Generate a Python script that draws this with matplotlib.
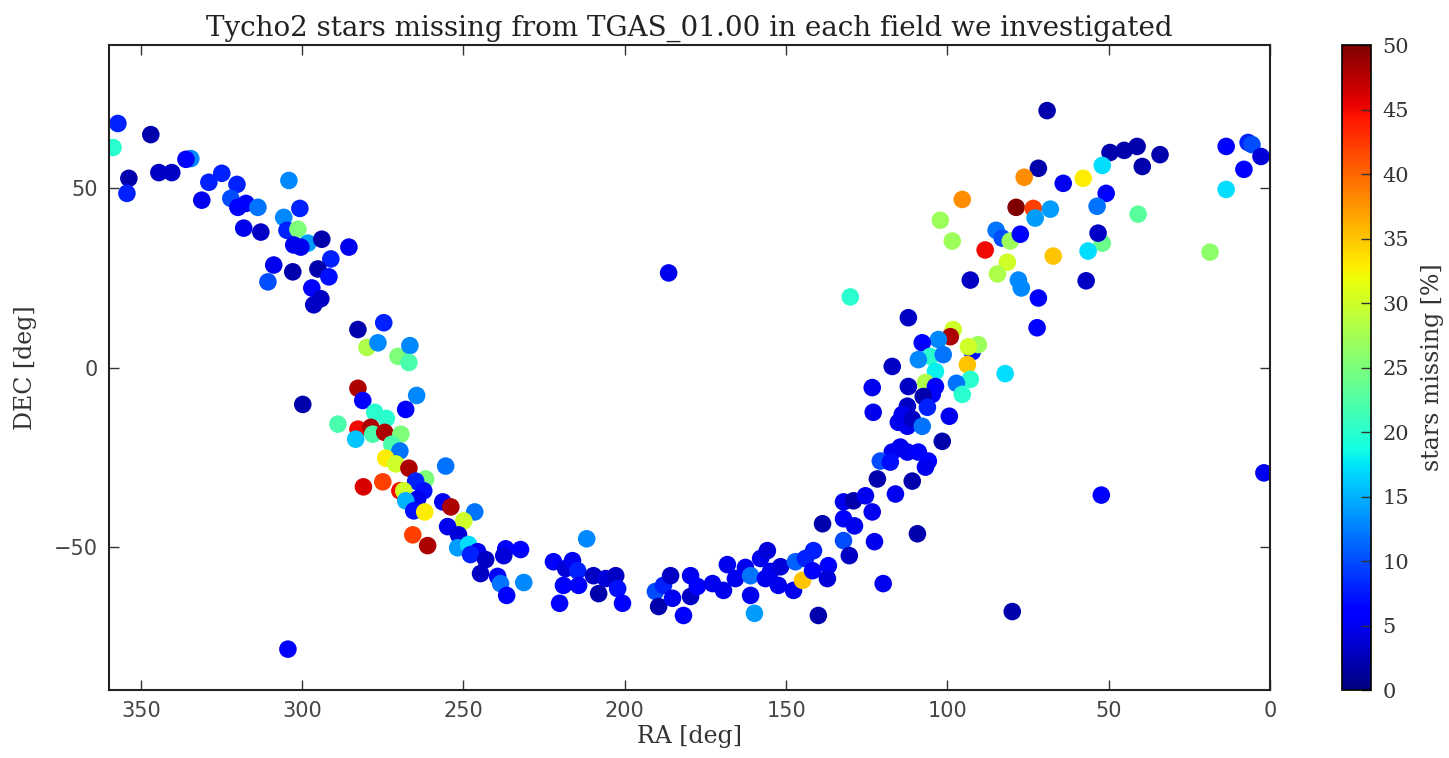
import matplotlib
matplotlib.use("Agg")
import matplotlib.pyplot as plt
import numpy as np

# Field centres (RA, DEC in degrees) and percentage of Tycho2 stars missing
ra = [357.1, 358.6, 346.9, 353.7, 354.3, 344.4, 340.4, 334.5, 336.0, 331.1,
      328.9, 324.9, 320.2, 322.1, 319.9, 317.4, 313.7, 318.1, 312.8, 304.1,
      300.7, 305.7, 304.7, 301.3, 298.2, 302.6, 300.4, 293.9, 285.5, 291.1,
      308.8, 302.9, 295.1, 291.7, 310.6, 297.0, 294.2, 296.4, 282.7, 274.7,
      279.9, 276.5, 270.3, 266.6, 266.9, 282.7, 281.2, 299.8, 264.5, 267.9,
      277.5, 273.9, 288.9, 282.7, 278.7, 283.4, 278.1, 274.4, 269.4, 272.2,
      269.7, 274.1, 271.0, 266.9, 261.7, 264.8, 255.5, 281.0, 275.0, 269.7,
      268.5, 262.3, 264.2, 267.9, 265.4, 262.0, 256.4, 253.9, 246.5, 249.9,
      254.9, 251.5, 265.7, 261.1, 251.8, 248.4, 245.6, 247.8, 243.1,
      244.7, 239.4, 238.5, 236.6, 236.9, 237.5, 232.3, 231.3, 222.1, 220.2,
      218.3, 216.2, 214.6, 219.0, 214.3, 211.8, 209.7, 208.1, 205.9, 202.8,
      202.2, 200.7, 190.5, 188.0, 185.8, 189.5, 185.2, 181.8, 179.6, 179.6,
      177.5, 172.8, 169.4, 168.2, 165.7, 162.6, 161.0, 161.0, 159.8, 157.9,
      155.8, 156.4, 154.8, 151.7, 152.4, 147.7, 147.1, 144.9, 144.0, 141.5,
      141.8, 136.9, 137.2, 140.0, 138.7, 132.2, 130.4, 132.2, 129.1, 125.4,
      123.3, 132.2, 128.8, 122.6, 119.9, 116.1, 121.7,
      130.1, 112.1, 92.9, 72.2, 71.8, 98.2, 99.1, 102.8, 107.8, 92.3,
      90.4, 93.5, 105.3, 101.3, 109.0, 93.8, 103.7, 82.1, 92.9, 97.2,
      95.4, 106.8, 103.7, 104.7, 107.5, 117.1, 123.3, 112.1, 123.0, 112.4,
      114.0, 115.2, 112.4, 110.9, 107.8, 106.2, 99.4, 101.6, 114.6, 117.1,
      112.4, 109.0, 105.9, 106.8, 120.8, 117.7, 110.9, 109.3,
      69.1, 49.6, 45.2, 41.2, 39.6, 34.1, 52.0, 71.8, 76.2, 64.1,
      57.9, 95.4, 50.8, 53.6, 78.7, 73.4, 68.1, 72.8, 40.9, 102.2,
      84.9, 83.0, 80.5, 77.4, 98.5, 52.0, 53.3, 56.4, 88.3, 67.2,
      81.4, 84.5, 78.0, 77.1, 57.0,
      13.6, 6.8, 5.6, 2.8, 8.1, 13.6, 18.6,
      1.9, 52.3, 79.9, 186.4, 304.4]

dec = [68.1, 61.4, 65.0, 52.8, 48.6, 54.4, 54.4, 58.3, 58.1, 46.7,
       51.7, 54.2, 51.1, 47.2, 44.7, 45.8, 44.7, 38.9, 37.8, 52.2,
       44.4, 41.9, 38.3, 38.6, 34.7, 34.2, 33.6, 35.8, 33.6, 30.3,
       28.6, 26.7, 27.5, 25.3, 23.9, 22.2, 19.2, 17.5, 10.6, 12.5,
       5.6, 6.9, 3.1, 6.1, 1.4, -5.8, -9.2, -10.3, -7.8, -11.7,
       -12.5, -14.2, -15.8, -17.2, -16.7, -20.0, -18.6, -18.1, -18.6, -21.4,
       -23.3, -25.3, -26.9, -28.1, -31.1, -31.7, -27.5, -33.3, -31.9, -34.4,
       -34.4, -34.4, -36.7, -37.2, -40.0, -40.3, -37.5, -38.9, -40.3, -42.8,
       -44.4, -46.7, -46.7, -49.7, -50.3, -49.4, -51.4, -52.2, -53.6,
       -57.5, -58.3, -60.3, -63.6, -50.6, -52.5, -50.8, -60.0, -54.2, -65.8,
       -56.1, -53.9, -56.7, -60.8, -60.8, -47.8, -58.1, -63.1, -58.9, -58.1,
       -61.7, -65.8, -62.5, -60.8, -58.1, -66.7, -64.4, -69.2, -58.1, -63.9,
       -61.1, -60.3, -62.2, -55.0, -58.9, -55.8, -58.1, -63.6, -68.6, -53.3,
       -51.1, -58.9, -56.9, -55.6, -60.8, -62.2, -54.2, -59.4, -53.3, -51.1,
       -56.7, -55.3, -58.9, -69.2, -43.6, -48.3, -52.5, -37.5, -37.2, -35.8,
       -40.3, -42.2, -44.2, -48.6, -60.3, -35.3, -31.1,
       19.7, 13.9, 24.4, 11.1, 19.4, 10.6, 8.6, 7.8, 6.9, 4.4,
       6.4, 5.8, 3.1, 3.6, 2.2, 0.8, -1.1, -1.7, -3.3, -4.4,
       -7.5, -4.2, -5.3, -7.5, -8.1, 0.3, -5.6, -5.3, -12.5, -10.8,
       -13.1, -15.3, -16.4, -14.4, -16.4, -11.1, -13.6, -20.6, -22.2, -23.6,
       -23.6, -23.6, -26.1, -27.8, -26.1, -26.4, -31.7, -46.4,
       71.7, 60.0, 60.6, 61.7, 56.1, 59.4, 56.4, 55.6, 53.1, 51.4,
       52.8, 46.9, 48.6, 45.0, 44.7, 44.4, 44.2, 41.7, 42.8, 41.1,
       38.3, 36.1, 35.3, 37.2, 35.3, 34.7, 37.5, 32.5, 32.8, 31.1,
       29.4, 26.1, 24.4, 22.2, 24.2,
       61.7, 62.8, 62.2, 58.9, 55.3, 49.7, 32.2,
       -29.4, -35.6, -68.1, 26.4, -78.6]

missing = [8, 20, 2, 2, 8, 3, 3, 13, 6, 5,
           8, 8, 8, 10, 6, 6, 12, 5, 3, 13,
           8, 13, 8, 25, 14, 5, 5, 2, 5, 8,
           5, 2, 2, 7, 10, 6, 3, 3, 2, 8,
           28, 13, 25, 13, 22, 48, 6, 2, 13, 6,
           20, 20, 22, 45, 48, 16, 22, 48, 25, 22,
           12, 33, 30, 48, 25, 8, 12, 46, 42, 45,
           30, 7, 5, 15, 7, 33, 5, 48, 12, 30,
           5, 4, 42, 48, 14, 17, 5, 8, 3,
           3, 6, 12, 6, 6, 4, 6, 13, 6, 6,
           4, 5, 8, 6, 6, 13, 3, 2, 4, 3,
           7, 6, 10, 8, 3, 2, 5, 6, 5, 3,
           6, 5, 5, 5, 5, 5, 12, 5, 14, 5,
           4, 5, 5, 4, 5, 5, 11, 35, 8, 8,
           6, 6, 4, 2, 2, 10, 3, 5, 2, 5,
           5, 6, 5, 5, 5, 5, 2,
           20, 3, 3, 6, 6, 30, 48, 13, 6, 7,
           27, 30, 20, 12, 13, 35, 18, 17, 20, 12,
           20, 28, 6, 6, 2, 3, 5, 3, 5, 3,
           5, 5, 5, 3, 12, 8, 5, 2, 5, 5,
           5, 6, 6, 5, 10, 7, 2, 2,
           2, 2, 2, 2, 2, 2, 17, 2, 38, 5,
           33, 38, 6, 12, 50, 42, 14, 14, 23, 27,
           12, 10, 27, 6, 27, 24, 3, 17, 45, 35,
           30, 28, 13, 13, 3,
           6, 8, 10, 4, 6, 17, 26,
           5, 6, 2, 5, 6]

serif = "DejaVu Serif"
sans = "DejaVu Sans"

fig = plt.figure(figsize=(14.49, 7.58), dpi=100)
ax = fig.add_axes([0.0749, 0.0897, 0.8016, 0.8509])
cax = fig.add_axes([0.9262, 0.0897, 0.0200, 0.8509])

sc = ax.scatter(ra, dec, c=missing, cmap="jet", vmin=0, vmax=50,
                s=160, edgecolors="none")

ax.set_xlim(360, 0)
ax.set_ylim(-90, 90)
ax.set_xticks([350, 300, 250, 200, 150, 100, 50, 0])
ax.set_yticks([-50, 0, 50])
ax.tick_params(direction="in", top=True, right=True, length=7, width=1,
               labelsize=15, pad=8, colors="#333333")
for lab in ax.get_xticklabels() + ax.get_yticklabels():
    lab.set_family(sans)
    lab.set_color("#444444")
for sp in ax.spines.values():
    sp.set_linewidth(1.5)
    sp.set_color("#222222")

ax.set_title("Tycho2 stars missing from TGAS_01.00 in each field we investigated",
             family=serif, fontsize=20, pad=7, color="#222222")
ax.set_xlabel("RA [deg]", family=serif, fontsize=17, color="#333333", labelpad=3)
ax.set_ylabel("DEC [deg]", family=serif, fontsize=17, color="#333333", labelpad=12)

cb = fig.colorbar(sc, cax=cax)
cb.set_ticks(np.arange(0, 51, 5))
cb.ax.tick_params(direction="in", length=7, width=1, labelsize=15, pad=8,
                  colors="#333333")
for lab in cb.ax.get_yticklabels():
    lab.set_family(serif)
cb.outline.set_linewidth(1.2)
cb.set_label("stars missing [%]", family=serif, fontsize=17, color="#333333",
             labelpad=9)

fig.savefig("out.png", dpi=100)
